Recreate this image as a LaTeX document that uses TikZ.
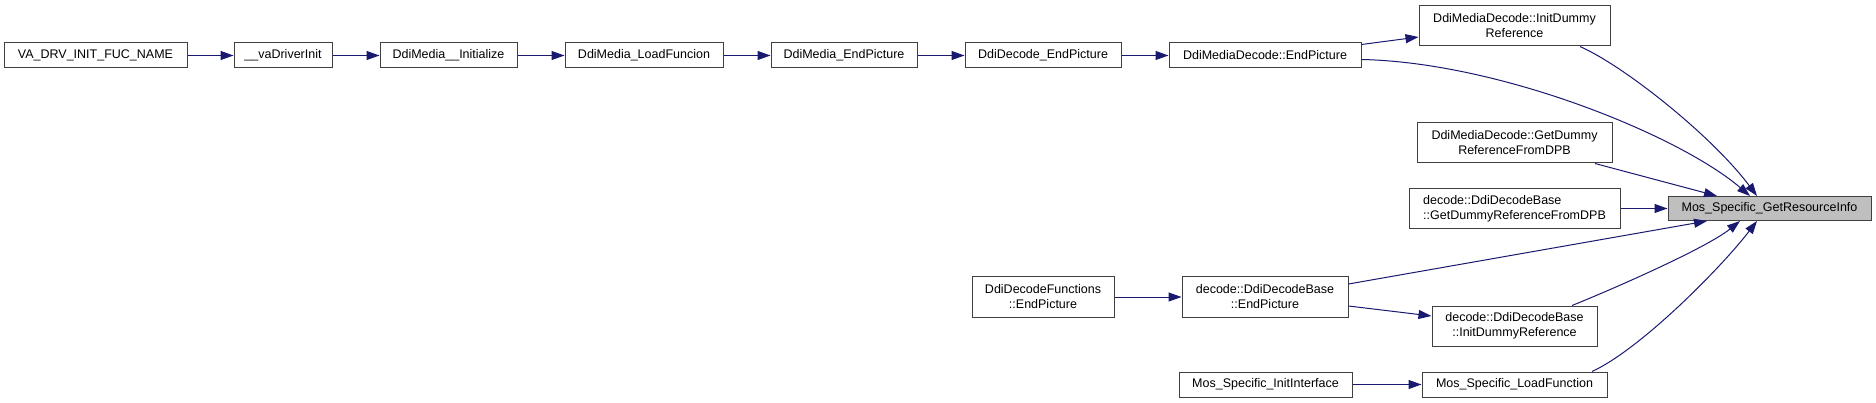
\documentclass[tikz,border=0pt]{standalone}
\usepackage{fontspec}
\setmainfont{Liberation Sans}
\usetikzlibrary{arrows.meta}

\definecolor{edgeblue}{RGB}{25,25,112}
\definecolor{hlgray}{RGB}{191,191,191}

\begin{document}
\begin{tikzpicture}[x=1pt, y=-1pt, >={Triangle[length=13pt,width=9pt]},
    func/.style={draw=black!75, line width=1pt, fill=white, inner sep=0pt,
        minimum height=25pt, align=center, font=\fontsize{12.5}{15}\selectfont},
    func2/.style={func, minimum height=40pt},
    calls/.style={->, draw=edgeblue, line width=1pt}]

    \useasboundingbox (0,0) rectangle (1876,403);

    % Cadeia de chamadas (linha de cima)
    \node[func, minimum width=183pt] (vadrv) at (95.5,55.5) {VA\_DRV\_INIT\_FUC\_NAME};
    \node[func, minimum width=98pt] (vainit) at (283,55.5) {\_\_vaDriverInit};
    \node[func, minimum width=137pt] (mediainit) at (448.5,55.5) {DdiMedia\_\_Initialize};
    \node[func, minimum width=158pt] (loadfunc) at (644,55.5) {DdiMedia\_LoadFuncion};
    \node[func, minimum width=146pt] (mediaend) at (844,55.5) {DdiMedia\_EndPicture};
    \node[func, minimum width=156pt] (decodeend) at (1043,55.5) {DdiDecode\_EndPicture};
    \node[func, minimum width=192pt] (mdend) at (1265,55.5) {DdiMediaDecode::EndPicture};

    % Coluna da direita
    \node[func2, minimum width=191pt] (mdinit) at (1514.5,26) {DdiMediaDecode::InitDummy\\Reference};
    \node[func2, minimum width=195pt] (mdget) at (1514.5,143) {DdiMediaDecode::GetDummy\\ReferenceFromDPB};
    \node[func2, minimum width=211pt, align=left] (dbget) at (1514.5,208.5) {decode::DdiDecodeBase\\::GetDummyReferenceFromDPB};
    \node[func2, minimum width=165pt] (dbinit) at (1514.5,326) {decode::DdiDecodeBase\\::InitDummyReference};
    \node[func, minimum width=185pt] (moslf) at (1514.5,384.5) {Mos\_Specific\_LoadFunction};

    % Linhas de baixo
    \node[func2, minimum width=142pt] (dfend) at (1043,297) {DdiDecodeFunctions\\::EndPicture};
    \node[func2, minimum width=166pt] (dbend) at (1265,297) {decode::DdiDecodeBase\\::EndPicture};
    \node[func, minimum width=173pt] (mosii) at (1265.5,384.5) {Mos\_Specific\_InitInterface};

    % Funcao alvo
    \node[func, fill=hlgray, minimum width=203pt, minimum height=24pt] (mosget) at (1769.5,208.5) {Mos\_Specific\_GetResourceInfo};

    % Chamadas em linha reta
    \draw[calls] (vadrv) -- (vainit);
    \draw[calls] (vainit) -- (mediainit);
    \draw[calls] (mediainit) -- (loadfunc);
    \draw[calls] (loadfunc) -- (mediaend);
    \draw[calls] (mediaend) -- (decodeend);
    \draw[calls] (decodeend) -- (mdend);
    \draw[calls] (dfend) -- (dbend);
    \draw[calls] (mosii) -- (moslf);
    \draw[calls] ([yshift=-2pt]mdend.north east) -- ([yshift=-11pt]mdinit.west);
    \draw[calls] ([yshift=-9pt]dbend.east) -- ([yshift=10pt]dbinit.west);

    % Chamadas para Mos_Specific_GetResourceInfo
    \draw[calls] (dbget.east) -- (mosget.west);
    \draw[calls] ([xshift=80.5pt]mdget.south) -- ([xshift=-52.5pt]mosget.north);
    \draw[calls] ([yshift=13pt]dbend.east) -- ([xshift=-62.5pt]mosget.south);
    \draw[calls] ([xshift=65.5pt]mdinit.south) .. controls +(45,20) and +(-45,-60) .. ([xshift=-12.5pt]mosget.north);
    \draw[calls] ([yshift=-4pt]mdend.east) .. controls +(140,3) and +(-70,-60) .. ([xshift=-19.5pt]mosget.north);
    \draw[calls] ([xshift=57.5pt]dbinit.north) .. controls +(35,-14) and +(-35,28) .. ([xshift=-29.5pt]mosget.south);
    \draw[calls] ([xshift=77.5pt]moslf.north) .. controls +(48,-22) and +(-37,48) .. ([xshift=-12.5pt]mosget.south);

\end{tikzpicture}
\end{document}
